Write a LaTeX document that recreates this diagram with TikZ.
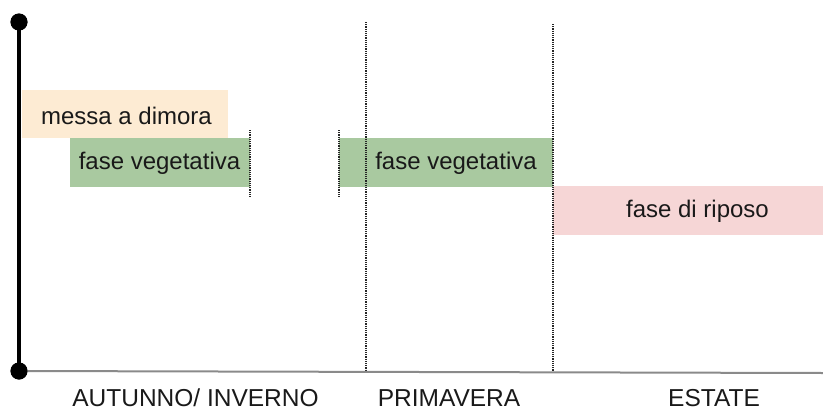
\documentclass[tikz,border=0pt]{standalone}
\usepackage{fontspec}
\setmainfont{Liberation Sans}
\definecolor{peach}{HTML}{FDEBD3}
\definecolor{leaf}{HTML}{A9C9A0}
\definecolor{rose}{HTML}{F6D6D6}
\definecolor{axisgray}{HTML}{8A8A8A}
\begin{document}
\begin{tikzpicture}[x=1pt,y=-1pt,
  bar/.style={rectangle, draw=none, inner sep=0pt, anchor=north west},
  txt/.style={inner sep=0pt, text=black!90, font=\fontsize{24}{28}\selectfont},
  season/.style={inner sep=0pt, anchor=base, text=black!90, font=\fontsize{24.5}{28}\selectfont},
  dot/.style={circle, fill=black, inner sep=0pt, minimum size=17pt},
  dotline/.style={line width=1.3pt, black!85, dash pattern=on 1.2pt off 1pt}]
\useasboundingbox (0,0) rectangle (823,410);
% bars
\node[bar, fill=peach, minimum width=206pt, minimum height=48pt] (b1) at (22,90) {};
\node[bar, fill=leaf, minimum width=180pt, minimum height=49pt] (b2) at (70,138) {};
\node[bar, fill=leaf, minimum width=214pt, minimum height=49pt] (b3) at (339,138) {};
\node[bar, fill=rose, minimum width=270pt, minimum height=49pt] (b4) at (553,186) {};
\node[txt] (t1) at (126.5,116) {messa a dimora};
\node[txt] (t2) at (159.5,163.5) {fase vegetativa};
\node[txt] (t3) at (456,163.5) {fase vegetativa};
\node[txt] (t4) at (697.5,211.5) {fase di riposo};
% dotted separators
\coordinate (s1a) at (366,22); \coordinate (s1b) at (366,372);
\coordinate (s2a) at (553,24); \coordinate (s2b) at (553,372);
\coordinate (s3a) at (250,130); \coordinate (s3b) at (250,198);
\coordinate (s4a) at (339,130); \coordinate (s4b) at (339,198);
\draw[dotline] (s1a) -- (s1b);
\draw[dotline] (s2a) -- (s2b);
\draw[dotline] (s3a) -- (s3b);
\draw[dotline] (s4a) -- (s4b);
% axes
\coordinate (xend) at (823,373);
\node[dot] (top) at (19,22) {};
\node[dot] (bot) at (19,371) {};
\draw[axisgray, line width=2pt] (bot.center) -- (xend);
\draw[black, line width=4pt] (top.center) -- (bot.center);
\node[dot] at (top.center) {};
\node[dot] at (bot.center) {};
% season labels
\node[season] (l1) at (195.5,406.5) {AUTUNNO/ INVERNO};
\node[season] (l2) at (449,406.5) {PRIMAVERA};
\node[season] (l3) at (714,406.5) {ESTATE};
\end{tikzpicture}
\end{document}
